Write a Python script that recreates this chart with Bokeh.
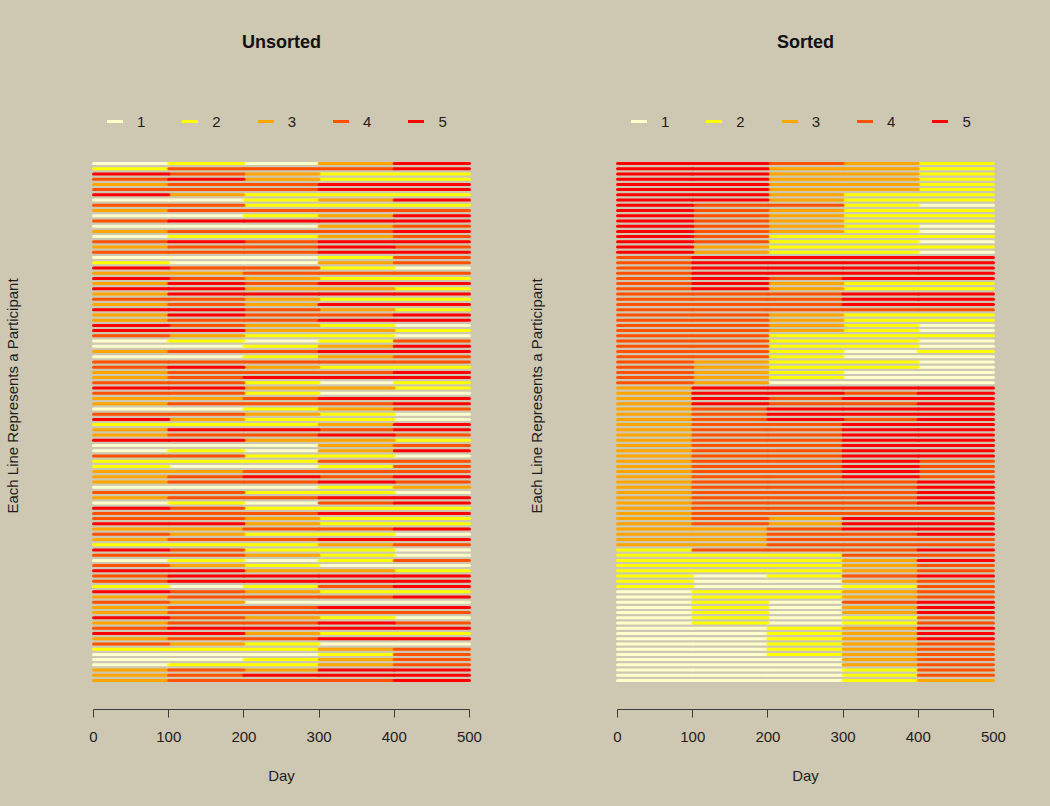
from bokeh.plotting import figure
from bokeh.layouts import row
from bokeh.models import Range1d, FixedTicker, Legend, LegendItem, ColumnDataSource
from bokeh.embed import file_html
from bokeh.resources import INLINE

# ---------------- data ----------------
days = [0, 100, 200, 300, 400, 500]
levels = ["1", "2", "3", "4", "5"]
level_colors = ["#FFFFCC", "#FFFF00", "#FFA500", "#FF5200", "#FF0000"]
panel_titles = ["Unsorted", "Sorted"]

# value of each participant (top row first) in each 100-day period
period_0_100 = [1, 2, 5, 4, 3, 4, 5, 1, 4, 3, 1, 4, 1, 3, 1, 4, 3, 4, 1, 2,
                5, 3, 5, 3, 5, 3, 4, 3, 5, 3, 3, 5, 5, 4, 1, 1, 3, 1, 4, 4,
                3, 3, 4, 5, 4, 3, 3, 1, 4, 5, 2, 3, 3, 5, 1, 1, 4, 2, 2, 3,
                3, 3, 1, 4, 3, 1, 5, 4, 4, 5, 3, 4, 3, 2, 5, 4, 1, 4, 5, 4,
                4, 2, 5, 3, 4, 3, 3, 5, 3, 4, 5, 3, 4, 2, 1, 1, 1, 3, 3, 3]
period_100_200 = [2, 4, 4, 5, 4, 4, 3, 1, 4, 4, 1, 5, 1, 4, 2, 5, 4, 4, 1, 1,
                  4, 3, 4, 5, 5, 5, 4, 4, 5, 5, 4, 4, 5, 3, 2, 1, 4, 1, 4, 5,
                  4, 4, 4, 5, 4, 3, 4, 1, 4, 3, 2, 5, 4, 5, 1, 2, 4, 2, 1, 3,
                  4, 4, 1, 4, 4, 2, 4, 4, 4, 5, 3, 3, 4, 2, 4, 4, 2, 3, 5, 5,
                  5, 1, 4, 4, 3, 4, 4, 4, 4, 5, 5, 4, 3, 2, 1, 1, 2, 4, 4, 4]
period_200_300 = [1, 4, 3, 3, 4, 4, 2, 2, 2, 4, 2, 5, 1, 4, 2, 4, 4, 4, 1, 1,
                  4, 4, 3, 4, 3, 5, 3, 3, 4, 4, 4, 3, 3, 2, 1, 2, 4, 2, 4, 3,
                  4, 5, 2, 3, 2, 4, 4, 2, 3, 2, 2, 5, 4, 3, 1, 1, 2, 2, 1, 4,
                  5, 4, 1, 2, 4, 1, 2, 4, 3, 3, 4, 2, 4, 2, 2, 3, 1, 2, 3, 5,
                  5, 2, 3, 4, 1, 4, 4, 3, 4, 5, 3, 4, 2, 2, 1, 2, 2, 3, 5, 4]
period_300_400 = [3, 4, 2, 2, 5, 5, 2, 3, 2, 4, 3, 5, 3, 4, 3, 5, 5, 5, 2, 3,
                  2, 4, 2, 5, 3, 5, 2, 5, 3, 4, 5, 2, 3, 2, 2, 3, 5, 3, 4, 2,
                  4, 5, 1, 3, 1, 5, 4, 3, 2, 2, 3, 4, 5, 3, 3, 3, 2, 4, 2, 4,
                  4, 5, 2, 2, 5, 4, 2, 5, 2, 2, 4, 2, 5, 3, 2, 2, 2, 1, 3, 5,
                  5, 4, 2, 4, 1, 5, 4, 2, 5, 5, 2, 5, 1, 3, 2, 3, 3, 5, 5, 4]
period_400_500 = [5, 5, 2, 2, 5, 5, 2, 5, 2, 4, 5, 5, 4, 5, 4, 5, 4, 5, 4, 4,
                  1, 4, 2, 5, 2, 5, 2, 5, 2, 5, 5, 1, 2, 1, 4, 5, 5, 4, 4, 2,
                  5, 5, 2, 2, 1, 5, 5, 4, 1, 1, 5, 5, 4, 2, 4, 5, 1, 4, 4, 4,
                  5, 4, 3, 1, 5, 5, 2, 5, 2, 2, 5, 1, 5, 4, 1, 1, 4, 1, 2, 5,
                  5, 5, 2, 5, 1, 5, 4, 1, 4, 5, 2, 5, 1, 4, 4, 4, 4, 5, 5, 5]

periods = [period_0_100, period_100_200, period_200_300, period_300_400, period_400_500]
unsorted_rows = list(zip(*periods))
sorted_rows = sorted(unsorted_rows, reverse=True)

# ---------------- style ----------------
BG = "#CEC7B2"
FONT = "Liberation Sans"
TXT = "#1e1e1e"
AX = "#3c3c3c"


def make_panel(title, data_rows, left, right, ylab_standoff):
    n = len(data_rows)
    p = figure(width=517, height=790, output_backend="svg", toolbar_location=None,
               x_range=Range1d(-20, 520), y_range=Range1d(-4.553, 115.511),
               min_border_left=left, min_border_right=right,
               min_border_top=82, min_border_bottom=81,
               background_fill_alpha=0, border_fill_color=BG,
               outline_line_color=None)
    p.grid.visible = False

    items = []
    for lvl, col in zip(levels, level_colors):
        x0, x1, y = [], [], []
        for i, r in enumerate(data_rows):
            for k, v in enumerate(r):
                if str(v) == lvl:
                    x0.append(days[k])
                    x1.append(days[k + 1])
                    y.append(n - i)
        src = ColumnDataSource(dict(x0=x0, x1=x1, y=y))
        rr = p.segment(x0="x0", y0="y", x1="x1", y1="y", source=src,
                       line_color=col, line_width=3, line_cap="round")
        items.append(LegendItem(label=lvl, renderers=[rr]))

    legend = Legend(items=items, orientation="horizontal", location="top_left",
                    margin=0, padding=29, spacing=37, glyph_width=16, glyph_height=20,
                    label_standoff=14, label_width=8, label_height=20,
                    label_text_font=FONT, label_text_font_size="15px",
                    label_text_color=TXT, background_fill_alpha=0,
                    border_line_alpha=0)
    p.add_layout(legend)

    # title
    p.title.text = title
    p.title.align = "center"
    p.title.vertical_align = "top"
    p.title.text_font = FONT
    p.title.text_font_size = "18px"
    p.title.text_font_style = "bold"
    p.title.text_color = "#111111"
    p.title.standoff = 58

    # x axis
    xa = p.xaxis[0]
    xa.ticker = FixedTicker(ticks=days)
    xa.bounds = (days[0], days[-1])
    xa.axis_label = "Day"
    xa.axis_label_text_font = FONT
    xa.axis_label_text_font_size = "15px"
    xa.axis_label_text_font_style = "normal"
    xa.axis_label_text_color = TXT
    xa.axis_label_standoff = 22
    xa.major_label_text_font = FONT
    xa.major_label_text_font_size = "15px"
    xa.major_label_text_color = TXT
    xa.major_label_standoff = 14
    xa.major_tick_out = 8
    xa.major_tick_in = 0
    xa.minor_tick_line_color = None
    xa.axis_line_color = AX
    xa.major_tick_line_color = AX

    # y axis: label only
    ya = p.yaxis[0]
    ya.ticker = FixedTicker(ticks=[])
    ya.axis_line_color = None
    ya.major_tick_line_color = None
    ya.minor_tick_line_color = None
    ya.axis_label = "Each Line Represents a Participant"
    ya.axis_label_text_font = FONT
    ya.axis_label_text_font_size = "15px"
    ya.axis_label_text_font_style = "normal"
    ya.axis_label_text_color = TXT
    ya.axis_label_standoff = ylab_standoff
    return p


p1 = make_panel(panel_titles[0], unsorted_rows, 78, 33, 58)
p2 = make_panel(panel_titles[1], sorted_rows, 85, 26, 58)

layout = row(p1, p2)
html = file_html(layout, INLINE)
html = html.replace("</head>", "<style>html, body { background-color: %s; }</style></head>" % BG, 1)
open("out.html", "w").write(html)
